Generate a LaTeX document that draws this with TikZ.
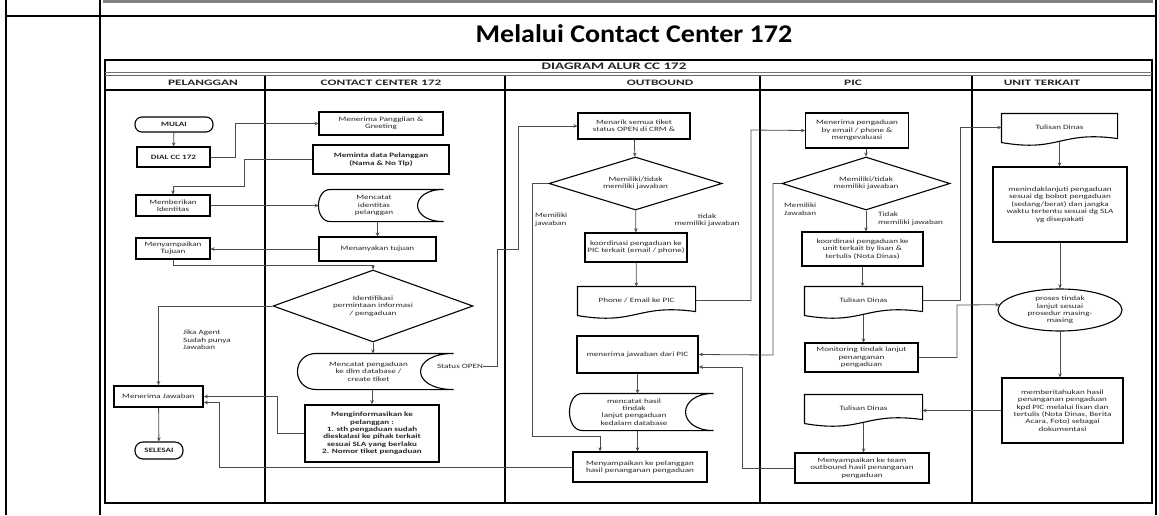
\documentclass[tikz,border=0pt]{standalone}
\usepackage{fontspec}
\setmainfont{Carlito}
\newfontfamily\dfont[FakeStretch=1.38]{Carlito}
\newfontfamily\hfont[FakeStretch=1.6]{Carlito}
\newfontfamily\gfont[FakeStretch=1.5]{Carlito}
\newfontfamily\tfont[FakeStretch=1.1]{Carlito}
\usetikzlibrary{shapes.geometric,arrows.meta,calc}

\tikzset{
  tablerule/.style={draw=black, line width=2pt},
  frame/.style={draw=black, line width=1.3pt},
  colrule/.style={draw=black, line width=2pt},
  txt/.style={font=\dfont\fontsize{6.6}{7.4}\selectfont, text=black!85},
  bold/.style={font=\dfont\bfseries\fontsize{6.6}{7.4}\selectfont},
  hdr/.style={font=\hfont\bfseries\fontsize{8.3}{9}\selectfont, text=black!85},
  sz/.style 2 args={minimum width=#1pt, minimum height=#2pt},
  box/.style={txt, draw=black, line width=1.1pt, rectangle, inner sep=0pt, align=center},
  thickbox/.style={box, line width=1.8pt},
  openbox/.style={box, draw=none},
  decision/.style={txt, diamond, draw=black, line width=1.1pt, inner sep=0pt, aspect=2.5, align=center},
  oval/.style={txt, ellipse, draw=black, line width=1.1pt, inner sep=0pt, align=center},
  lbl/.style={txt, inner sep=0pt, align=left},
  shapeline/.style={draw=black, line width=1.1pt},
  wire/.style={draw=black!70, line width=0.8pt},
  conn/.style={wire, -{Stealth[length=4pt,width=3.6pt]}},
}

% document symbol with a wavy lower edge, drawn around a borderless node
\newcommand\mkdoc[1]{%
  \draw[shapeline] (#1.north west) -- (#1.north east) -- ([yshift=3pt]#1.south east)
    .. controls ($(#1.south)+(0,11pt)$) and ($(#1.south)+(0,-11pt)$) .. ([yshift=-1pt]#1.south west) -- cycle;}

% stored-data symbol: convex left side (radius #2), open concave right side (depth #3)
\newcommand\mkstore[3]{%
  \draw[shapeline] (#1.north west) -- ([xshift=#3pt]#1.north east)
    .. controls ([xshift={-0.333*#3pt}]#1.north east) and ([xshift={-0.333*#3pt}]#1.south east) .. ([xshift=#3pt]#1.south east)
    -- (#1.south west)
    .. controls ([xshift={-1.333*#2pt}]#1.south west) and ([xshift={-1.333*#2pt}]#1.north west) .. (#1.north west);}

\begin{document}
\begin{tikzpicture}[x=1pt,y=1pt]
\useasboundingbox (0,0) rectangle (1159,-515);

% ---- surrounding table ----
\fill[black!50] (103,0) rectangle (1153,-3);
\draw[tablerule] (6,0) -- (6,-515);
\draw[tablerule] (100,0) -- (100,-515);
\draw[tablerule] (1156,0) -- (1156,-515);
\draw[tablerule] (6,-16) -- (1156,-16);
\node[font=\tfont\bfseries\fontsize{25.5}{30}\selectfont] (title) at (634,-34) {Melalui Contact Center 172};

% ---- flow chart frame and swimlanes ----
\draw[frame] (105,-60) rectangle (1152,-503);
\node[font=\gfont\bfseries\fontsize{10}{11}\selectfont, text=black!85] (dtitle) at (614,-66.5) {DIAGRAM ALUR CC 172};
\draw[black!55, line width=1pt] (105,-72.5) -- (1152,-72.5);
\draw[black!60, line width=1.3pt] (105,-75.5) -- (1152,-75.5);
\draw[frame] (105,-90) -- (1152,-90);
\foreach \x in {265,505,760,972} \draw[colrule] (\x,-76) -- (\x,-503);

\node[hdr] (h1) at (203,-83) {PELANGGAN};
\node[hdr] (h2) at (381,-83) {CONTACT CENTER 172};
\node[hdr] (h3) at (660,-83) {OUTBOUND};
\node[hdr] (h4) at (853,-83) {PIC};
\node[hdr] (h5) at (1042,-83) {UNIT TERKAIT};

% ---- PELANGGAN ----
\node[box, bold, sz={78}{15}, rounded corners=7pt] (mulai) at (174,-124.5) {MULAI};
\node[box, bold, sz={73}{20}] (dial) at (173.5,-157) {DIAL CC 172};
\node[box, sz={74}{21}] (beri) at (173,-205.5) {Memberikan\\Identitas};
\node[box, sz={74}{21}] (sampai) at (173,-248.5) {Menyampaikan\\Tujuan};
\node[lbl, anchor=north west] (agent) at (183,-330) {Jika Agent\\Sudah punya\\Jawaban};
\node[thickbox, sz={89}{21}] (jawab) at (158.5,-396.5) {Menerima Jawaban};
\node[box, bold, sz={48}{17}, rounded corners=8pt] (selesai) at (159,-450.5) {SELESAI};

% ---- CONTACT CENTER 172 ----
\node[box, sz={124}{23}] (terima) at (381,-123.5) {Menerima Panggilan \&\\Greeting};
\node[box, bold, sz={136}{29}] (minta) at (381,-159.5) {Meminta data Pelanggan\\(Nama \& No Tlp)};
\node[openbox, sz={86}{31}] (catatid) at (374,-205.5) {Mencatat\\identitas\\pelanggan};
\mkstore{catatid}{12}{26}
\node[box, sz={117}{24}] (tanya) at (377.5,-249) {Menanyakan tujuan};
\node[decision, sz={200}{72}] (ident) at (373,-306) {Identifikasi\\permintaan informasi\\/ pengaduan};
\node[openbox, sz={103}{35}] (catatpeng) at (368.5,-371.5) {Mencatat pengaduan\\ke dlm database /\\create tiket};
\mkstore{catatpeng}{19}{33}
\node[lbl] (status) at (460,-366) {Status OPEN};
\node[thickbox, bold, sz={134}{57}] (minform) at (372,-433.5) {Menginformasikan ke\\pelanggan :\\1. sth pengaduan sudah\\dieskalasi ke pihak terkait\\sesuai SLA yang berlaku\\2. Nomor tiket pengaduan};

% ---- OUTBOUND ----
\node[box, sz={112}{26}] (menarik) at (634,-126) {Menarik semua tiket\\status OPEN di CRM \&};
\node[decision, sz={173}{53}] (odia) at (635.5,-183.5) {Memiliki/tidak\\memiliki jawaban};
\node[lbl, anchor=north west] (oya) at (535,-213) {Memiliki\\jawaban};
\node[lbl, align=center] (otidak) at (707,-220) {tidak\\memiliki jawaban};
\node[box, sz={102}{29}] (koord) at (636,-247.5) {koordinasi pengaduan ke\\PIC terkait (email / phone)};
\node[openbox, sz={117}{27}] (phone) at (636.5,-300.5) {Phone / Email ke PIC};
\mkdoc{phone}
\node[thickbox, sz={121}{37}] (terjawab) at (637.5,-354.5) {menerima jawaban dari PIC};
\node[openbox, sz={102}{36}] (catathasil) at (634,-412) {mencatat hasil\\tindak\\lanjut pengaduan\\kedalam database};
\mkstore{catathasil}{13}{28}
\node[box, line width=1.3pt, sz={134}{30}] (kepel) at (640,-467) {Menyampaikan ke pelanggan\\hasil penanganan pengaduan};

% ---- PIC ----
\node[box, sz={103}{35}] (terimap) at (857,-130.5) {Menerima pengaduan\\by email / phone \&\\mengevaluasi};
\node[decision, sz={168}{53}] (pdia) at (866,-183.5) {Memiliki/tidak\\memiliki jawaban};
\node[lbl, anchor=north west] (pya) at (784,-203) {Memiliki\\Jawaban};
\node[lbl, anchor=north west] (ptidak) at (878,-212) {Tidak\\memiliki jawaban};
\node[box, sz={121}{34}] (pkoord) at (862.5,-249) {koordinasi pengaduan ke\\unit terkait by lisan \&\\tertulis (Nota Dinas)};
\node[openbox, sz={117}{27}] (tul1) at (863.5,-300.5) {Tulisan Dinas};
\mkdoc{tul1}
\node[box, sz={113}{29}] (monit) at (861.5,-357.5) {Monitoring tindak lanjut\\penanganan\\pengaduan};
\node[openbox, sz={117}{27}] (tul2) at (863.5,-408.5) {Tulisan Dinas};
\mkdoc{tul2}
\node[box, line width=1.3pt, sz={134}{30}] (kteam) at (862,-468) {Menyampaikan ke team\\outbound hasil penanganan\\pengaduan};

% ---- UNIT TERKAIT ----
\node[openbox, sz={115}{27}] (utul) at (1059.5,-127.5) {Tulisan Dinas};
\mkdoc{utul}
\node[box, sz={134}{75}] (tindak) at (1060,-204.5) {menindaklanjuti pengaduan\\sesuai dg bobot pengaduan\\(sedang/berat) dan jangka\\waktu tertentu sesuai dg SLA\\yg disepakati};
\node[oval, sz={124}{42}] (proses) at (1060,-310) {proses tindak\\lanjut sesuai\\prosedur masing-\\masing};
\node[box, sz={121}{65}] (mem) at (1062.5,-410.5) {memberitahukan hasil\\penanganan pengaduan\\kpd PIC melalui lisan dan\\tertulis (Nota Dinas, Berita\\Acara, Foto) sebagai\\dokumentasi};

% ---- connectors ----
\draw[conn] (mulai) -- (dial);
\draw[conn] (dial.east) -- ++(25,0) |- (terima.west);
\draw[conn] (minta.west) -| (244,-186) -| (beri.north);
\draw[conn] (beri.east) -- ([xshift=-12pt]catatid.west);
\draw[conn] (tanya.north |- catatid.south) -- (tanya.north);
\draw[conn] (tanya.west) -- (tanya.west -| sampai.east);
\draw[conn] (sampai.south) |- ([yshift=4pt]ident.north) -- (ident.north);
\draw[conn] (ident.west) -| (jawab.north);
\draw[conn] (ident.south) -- (ident.south |- catatpeng.north);
\draw[conn] (status.east) -| (497,-249) -- (518,-249) |- (menarik.west);
\draw[conn] (minform.north |- catatpeng.south) -- (minform.north);
\draw[conn] (minform.west) -- ++(-27,0) |- (jawab.east);
\draw[conn] (jawab) -- (selesai);
\draw[conn] (kepel.west) -| ([xshift=15pt,yshift=-6pt]jawab.east) -- ([yshift=-6pt]jawab.east);

\draw[conn] (menarik) -- (odia);
\draw[conn] (odia.west) -| (532,-436) -| ([xshift=-40pt]kepel.north);
\draw[conn] (odia) -- (koord);
\draw[conn] (koord) -- (phone);
\draw[conn] (phone.east) -| (751,-130) -- (terimap.west);
\draw[conn] (terjawab.south) -- (terjawab.south |- catathasil.north);
\draw[conn] (terjawab.south |- catathasil.south) -- (terjawab.south |- kepel.north);

\draw[conn] (pdia.north |- terimap.south) -- (pdia.north);
\draw[conn] (pdia.west) -| (773,-355) -- (terjawab.east);
\draw[conn] (pdia.south) -- (pdia.south |- pkoord.north);
\draw[conn] (pkoord.south) -- (pkoord.south |- tul1.north);
\draw[conn] (tul1.east) -| ([xshift=-41pt]utul.west) -- (utul.west);
\draw[conn] (tul1.south) -- (tul1.south |- monit.north);
\draw[conn] (monit.east) -| (957,-305) -- (proses.175);
\draw[conn] (mem.west) -- (mem.west -| tul2.east);
\draw[conn] (tul2.south) -- (tul2.south |- kteam.north);
\draw[conn] (kteam.west) -| (742,-367) -- ([yshift=-12.5pt]terjawab.east);

\draw[conn] (utul.south) -- (utul.south |- tindak.north);
\draw[conn] (tindak) -- (proses);
\draw[conn] (proses.south) -- (proses.south |- mem.north);
\end{tikzpicture}
\end{document}
